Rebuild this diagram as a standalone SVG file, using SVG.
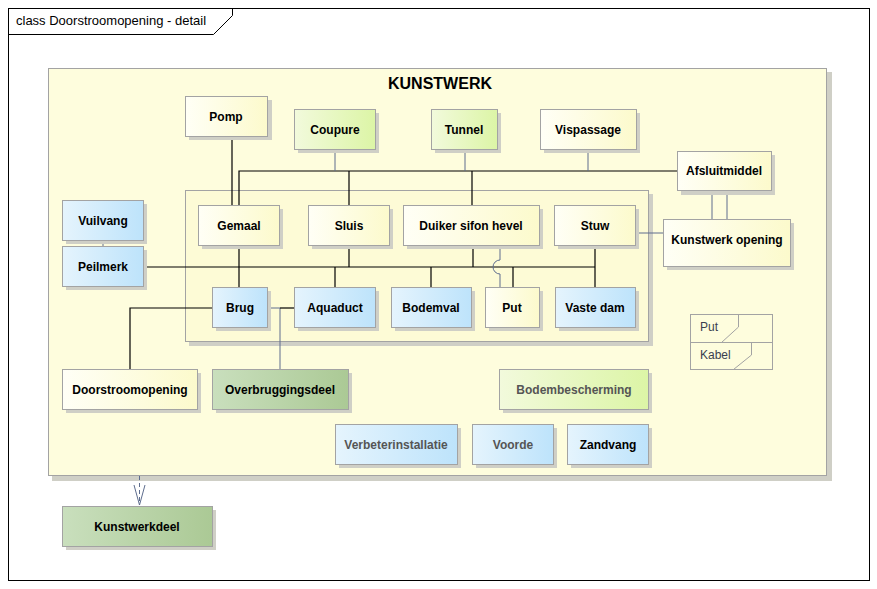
<svg xmlns="http://www.w3.org/2000/svg" width="877" height="589" viewBox="0 0 877 589">
  <style>
    .frame { fill: #ffffff; stroke: #000000; stroke-width: 1; }
    .shadow { fill: #cfcfc6; }
    .box { stroke: #a3a3a3; stroke-width: 1; }
    .y { fill: url(#gY); }
    .g { fill: url(#gG); }
    .b { fill: url(#gB); }
    .d { fill: url(#gD); }
    .lbl { font-family: "Liberation Sans", Arial, sans-serif; font-size: 12px; font-weight: bold; fill: #000000; text-anchor: middle; }
    .grey { fill: #555555; }
    .ln { fill: none; stroke: #000000; stroke-width: 1.2; }
    .lb { fill: none; stroke: #5e6d8e; stroke-width: 1; }
    .tag { font-family: "Liberation Sans", Arial, sans-serif; font-size: 12px; fill: #3a3f4f; }
  </style>
  <defs>
    <linearGradient id="gY" x1="0" y1="0" x2="1" y2="0">
      <stop offset="0" stop-color="#fffff6"/>
      <stop offset="1" stop-color="#fcfacc"/>
    </linearGradient>
    <linearGradient id="gG" x1="0" y1="0" x2="1" y2="0">
      <stop offset="0" stop-color="#f2fadc"/>
      <stop offset="1" stop-color="#dcf5a6"/>
    </linearGradient>
    <linearGradient id="gB" x1="0" y1="0" x2="1" y2="0">
      <stop offset="0" stop-color="#e5f4fd"/>
      <stop offset="1" stop-color="#bde3fb"/>
    </linearGradient>
    <linearGradient id="gD" x1="0" y1="0" x2="1" y2="0">
      <stop offset="0" stop-color="#c9dfbd"/>
      <stop offset="1" stop-color="#abc995"/>
    </linearGradient>
  </defs>

  <!-- diagram frame -->
  <rect x="0" y="0" width="877" height="589" fill="#ffffff"/>
  <rect class="frame" x="8.5" y="8.5" width="861" height="572"/>
  <path d="M8.5 34.5 H213.5 L232.5 15.5 V8.5" fill="none" stroke="#000" stroke-width="1"/>
  <text x="16" y="25" font-family="Liberation Sans, Arial, sans-serif" font-size="13" fill="#000">class Doorstroomopening - detail</text>

  <!-- KUNSTWERK package -->
  <g id="kunstwerk">
    <rect class="shadow" x="52" y="72" width="780" height="409"/>
    <rect x="48.5" y="68.5" width="778" height="407" fill="#fefddd" stroke="#a3a3a3"/>
    <text x="440" y="89" font-family="Liberation Sans, Arial, sans-serif" font-size="16" font-weight="bold" text-anchor="middle" fill="#000">KUNSTWERK</text>
  </g>

  <!-- inner group -->
  <g id="binnengroep">
    <rect class="shadow" x="189" y="194" width="464" height="152"/>
    <rect x="185.5" y="190.5" width="463" height="151" fill="#fdfbd6" stroke="#a3a3a3"/>
  </g>

  <!-- connectors -->
  <g id="connectors">
    <path class="ln" d="M232 136 V205"/>
    <path class="ln" d="M239 205 V171 H677"/>
    <path class="ln" d="M349 171 V205"/>
    <path class="ln" d="M472 171 V205"/>
    <path class="lb" d="M335 149 V171"/>
    <path class="lb" d="M465 149 V171"/>
    <path class="lb" d="M588 149 V171"/>
    <path class="lb" d="M712 190 V219"/>
    <path class="lb" d="M727 190 V219"/>
    <path class="lb" d="M635 233 H663"/>
    <path class="lb" d="M103 240 V246"/>
    <path class="ln" d="M143 267 H595"/>
    <path class="ln" d="M239 245 V287"/>
    <path class="ln" d="M349 245 V267"/>
    <path class="ln" d="M335 267 V287"/>
    <path class="ln" d="M431 267 V287"/>
    <path class="ln" d="M473 245 V267"/>
    <path class="ln" d="M513 267 V287"/>
    <path class="ln" d="M595 245 V287"/>
    <path class="lb" d="M500 245 V260 A7 7 0 0 0 500 274 V287"/>
    <path class="ln" d="M212 308 H130 V369"/>
    <path class="lb" d="M267 308 H280 V369"/>
    <path class="ln" d="M280 308 H294"/>
    <path d="M139.5 476 V505" fill="none" stroke="#5e6d8e" stroke-width="1" stroke-dasharray="4 3"/>
    <path d="M134 485 L139.5 505 L145 485" fill="none" stroke="#5e6d8e" stroke-width="1"/>
  </g>

  <!-- nodes -->
  <g id="pomp"><rect class="shadow" x="189" y="100" width="83" height="40"/><rect class="box y" x="185.5" y="96.5" width="82" height="40"/><text class="lbl" x="226" y="121">Pomp</text></g>
  <g id="coupure"><rect class="shadow" x="298" y="113" width="81" height="40"/><rect class="box g" x="294.5" y="109.5" width="81" height="40"/><text class="lbl" x="335" y="134">Coupure</text></g>
  <g id="tunnel"><rect class="shadow" x="435" y="113" width="66" height="40"/><rect class="box g" x="431.5" y="109.5" width="66" height="40"/><text class="lbl" x="464" y="134">Tunnel</text></g>
  <g id="vispassage"><rect class="shadow" x="544" y="113" width="96" height="40"/><rect class="box y" x="540.5" y="109.5" width="96" height="40"/><text class="lbl" x="588" y="134">Vispassage</text></g>
  <g id="afsluitmiddel"><rect class="shadow" x="681" y="155" width="94" height="40"/><rect class="box y" x="677.5" y="151.5" width="94" height="39"/><text class="lbl" x="724" y="175">Afsluitmiddel</text></g>
  <g id="kunstwerk-opening"><rect class="shadow" x="667" y="223" width="127" height="47"/><rect class="box y" x="663.5" y="219.5" width="127" height="47"/><text class="lbl" x="727" y="244">Kunstwerk opening</text></g>
  <g id="gemaal"><rect class="shadow" x="202" y="209" width="81" height="40"/><rect class="box y" x="198.5" y="205.5" width="81" height="40"/><text class="lbl" x="239" y="230">Gemaal</text></g>
  <g id="sluis"><rect class="shadow" x="312" y="209" width="81" height="40"/><rect class="box y" x="308.5" y="205.5" width="81" height="40"/><text class="lbl" x="349" y="230">Sluis</text></g>
  <g id="duiker"><rect class="shadow" x="407" y="209" width="136" height="40"/><rect class="box y" x="403.5" y="205.5" width="136" height="40"/><text class="lbl" x="471" y="230">Duiker sifon hevel</text></g>
  <g id="stuw"><rect class="shadow" x="558" y="209" width="81" height="40"/><rect class="box y" x="554.5" y="205.5" width="81" height="40"/><text class="lbl" x="595" y="230">Stuw</text></g>
  <g id="vuilvang"><rect class="shadow" x="66" y="204" width="81" height="40"/><rect class="box b" x="62.5" y="200.5" width="81" height="40"/><text class="lbl" x="103" y="225">Vuilvang</text></g>
  <g id="peilmerk"><rect class="shadow" x="66" y="250" width="81" height="40"/><rect class="box b" x="62.5" y="246.5" width="81" height="40"/><text class="lbl" x="103" y="271">Peilmerk</text></g>
  <g id="brug"><rect class="shadow" x="216" y="291" width="55" height="40"/><rect class="box b" x="212.5" y="287.5" width="55" height="40"/><text class="lbl" x="240" y="312">Brug</text></g>
  <g id="aquaduct"><rect class="shadow" x="298" y="291" width="81" height="40"/><rect class="box b" x="294.5" y="287.5" width="81" height="40"/><text class="lbl" x="335" y="312">Aquaduct</text></g>
  <g id="bodemval"><rect class="shadow" x="395" y="291" width="80" height="40"/><rect class="box b" x="391.5" y="287.5" width="80" height="40"/><text class="lbl" x="431" y="312">Bodemval</text></g>
  <g id="put"><rect class="shadow" x="489" y="291" width="54" height="40"/><rect class="box y" x="485.5" y="287.5" width="54" height="40"/><text class="lbl" x="512" y="312">Put</text></g>
  <g id="vaste-dam"><rect class="shadow" x="559" y="291" width="80" height="40"/><rect class="box b" x="555.5" y="287.5" width="80" height="40"/><text class="lbl" x="595" y="312">Vaste dam</text></g>
  <g id="doorstroomopening"><rect class="shadow" x="66" y="373" width="135" height="40"/><rect class="box y" x="62.5" y="369.5" width="135" height="40"/><text class="lbl" x="130" y="394">Doorstroomopening</text></g>
  <g id="overbruggingsdeel"><rect class="shadow" x="216" y="373" width="136" height="40"/><rect class="box d" x="212.5" y="369.5" width="136" height="40"/><text class="lbl" x="280" y="394">Overbruggingsdeel</text></g>
  <g id="bodembescherming"><rect class="shadow" x="503" y="373" width="149" height="40"/><rect class="box g" x="499.5" y="369.5" width="149" height="40"/><text class="lbl grey" x="574" y="394">Bodembescherming</text></g>
  <g id="verbeterinstallatie"><rect class="shadow" x="339" y="428" width="122" height="40"/><rect class="box b" x="335.5" y="424.5" width="122" height="40"/><text class="lbl grey" x="396" y="449">Verbeterinstallatie</text></g>
  <g id="voorde"><rect class="shadow" x="476" y="428" width="81" height="40"/><rect class="box b" x="472.5" y="424.5" width="81" height="40"/><text class="lbl grey" x="513" y="449">Voorde</text></g>
  <g id="zandvang"><rect class="shadow" x="571" y="428" width="81" height="40"/><rect class="box b" x="567.5" y="424.5" width="81" height="40"/><text class="lbl" x="608" y="449">Zandvang</text></g>
  <g id="kunstwerkdeel"><rect class="shadow" x="66" y="510" width="150" height="40"/><rect class="box d" x="62.5" y="506.5" width="150" height="40"/><text class="lbl" x="137" y="531">Kunstwerkdeel</text></g>

  <!-- tagged values -->
  <g id="tags">
    <rect x="690.5" y="314.5" width="82" height="55" fill="none" stroke="#a3a3a3"/>
    <path d="M690.5 342.5 H772.5" stroke="#a3a3a3" fill="none"/>
    <path d="M738.5 314.5 V327 L721.5 342.5" stroke="#a3a3a3" fill="none"/>
    <path d="M751.5 342.5 V355 L733.5 369.5" stroke="#a3a3a3" fill="none"/>
    <text class="tag" x="700" y="331">Put</text>
    <text class="tag" x="700" y="359">Kabel</text>
  </g>
</svg>
